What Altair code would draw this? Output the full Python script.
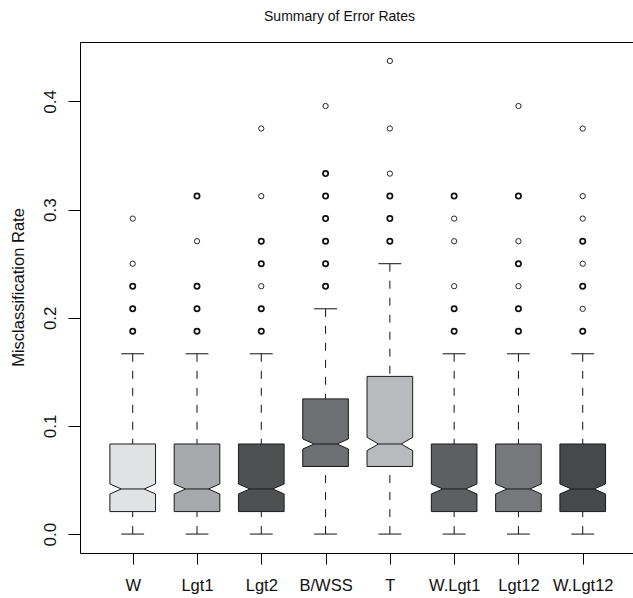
import altair as alt
import pandas as pd
import math

groups = ["W", "Lgt1", "Lgt2", "B/WSS", "T", "W.Lgt1", "Lgt12", "W.Lgt12"]
fills = ["#e1e2e4", "#a8a9ac", "#4f5052", "#6e6f72", "#b9babd", "#5e5f61", "#77787b", "#47484a"]
lower_whisker = [0.0, 0.0, 0.0, 0.0, 0.0, 0.0, 0.0, 0.0]
q1 = [0.0208, 0.0208, 0.0208, 0.0625, 0.0625, 0.0208, 0.0208, 0.0208]
median = [0.0417, 0.0417, 0.0417, 0.0833, 0.0833, 0.0417, 0.0417, 0.0417]
q3 = [0.0833, 0.0833, 0.0833, 0.1250, 0.1458, 0.0833, 0.0833, 0.0833]
upper_whisker = [0.1667, 0.1667, 0.1667, 0.2083, 0.2500, 0.1667, 0.1667, 0.1667]
n_obs = 455

# outliers: (value, multiplicity)
outliers = {
    "W": [(0.2917, 1), (0.2500, 1), (0.2292, 2), (0.2083, 2), (0.1875, 2)],
    "Lgt1": [(0.3125, 2), (0.2708, 1), (0.2292, 2), (0.2083, 2), (0.1875, 2)],
    "Lgt2": [(0.3750, 1), (0.3125, 1), (0.2708, 2), (0.2500, 2), (0.2292, 1), (0.2083, 2), (0.1875, 2)],
    "B/WSS": [(0.3958, 1), (0.3333, 2), (0.3125, 2), (0.2917, 2), (0.2708, 2), (0.2500, 2), (0.2292, 2)],
    "T": [(0.4375, 1), (0.3750, 1), (0.3333, 1), (0.3125, 2), (0.2917, 2), (0.2708, 2)],
    "W.Lgt1": [(0.3125, 2), (0.2917, 1), (0.2708, 1), (0.2292, 1), (0.2083, 2), (0.1875, 2)],
    "Lgt12": [(0.3958, 1), (0.3125, 2), (0.2708, 1), (0.2500, 2), (0.2292, 1), (0.2083, 2), (0.1875, 2)],
    "W.Lgt12": [(0.3750, 1), (0.3125, 1), (0.2917, 1), (0.2708, 2), (0.2500, 1), (0.2292, 2), (0.2083, 1), (0.1875, 2)],
}

HALF = 0.355  # half box width in x units
FONT = "Liberation Sans"

box_rows, whisk_rows, cap_rows, med_rows, out_rows = [], [], [], [], []
for i, g in enumerate(groups):
    c = i + 1
    nt = 1.58 * (q3[i] - q1[i]) / math.sqrt(n_obs)
    m = median[i]
    pts = [(q1[i], HALF), (m - nt, HALF), (m, HALF / 2), (m + nt, HALF), (q3[i], HALF)]
    for k, (yv, w) in enumerate(pts):
        box_rows.append({"g": g, "k": k, "y": yv, "xl": c - w, "xr": c + w})
    whisk_rows.append({"g": g, "x": c, "y": upper_whisker[i], "y2": q3[i]})
    whisk_rows.append({"g": g, "x": c, "y": lower_whisker[i], "y2": q1[i]})
    cap_rows.append({"g": g, "x": c - HALF / 2, "x2": c + HALF / 2, "y": upper_whisker[i]})
    cap_rows.append({"g": g, "x": c - HALF / 2, "x2": c + HALF / 2, "y": lower_whisker[i]})
    med_rows.append({"g": g, "x": c - HALF / 2, "x2": c + HALF / 2, "y": m})
    for v, cnt in outliers[g]:
        out_rows.append({"g": g, "x": c, "y": v, "cnt": cnt})

boxes = pd.DataFrame(box_rows)
whisk = pd.DataFrame(whisk_rows)
caps = pd.DataFrame(cap_rows)
meds = pd.DataFrame(med_rows)
outs = pd.DataFrame(out_rows)

xscale = alt.Scale(domain=[0.18, 8.782], nice=False, zero=False)
yscale = alt.Scale(domain=[-0.0175, 0.455], nice=False, zero=False)

label_expr = "[" + ",".join("'" + g + "'" for g in groups) + "][datum.value - 1]"

xaxis = alt.Axis(values=list(range(1, 9)), labelExpr=label_expr, title=None, grid=False,
                 domainColor="#000", tickColor="#000", tickSize=11, labelFont=FONT,
                 labelFontSize=16.5, labelColor="#111", labelPadding=13, labelFlush=False,
                 labelOverlap=False)
yaxis = alt.Axis(values=[0.0, 0.1, 0.2, 0.3, 0.4], format=".1f", grid=False,
                 title="Misclassification Rate", titleFont=FONT, titleFontSize=16.5,
                 titleFontWeight="normal", titleColor="#111", titleAngle=270,
                 titleX=-62, titleY=245, titleAlign="center", titleBaseline="middle",
                 domainColor="#000", tickColor="#000", tickSize=12, labelFont=FONT,
                 labelFontSize=17, labelColor="#111", labelAngle=270, labelAlign="center",
                 labelBaseline="bottom", labelPadding=9, labelFlush=False)

whisker_layer = alt.Chart(whisk).mark_rule(color="#111", strokeWidth=1, strokeDash=[8, 9]).encode(
    x=alt.X("x:Q", scale=xscale, axis=xaxis),
    y=alt.Y("y:Q", scale=yscale, axis=yaxis),
    y2="y2:Q",
)

cap_layer = alt.Chart(caps).mark_rule(color="#111", strokeWidth=1).encode(
    x=alt.X("x:Q", scale=xscale), x2="x2:Q", y=alt.Y("y:Q", scale=yscale)
)

box_layer = alt.Chart(boxes).mark_area(
    orient="horizontal", interpolate="linear", stroke="#1a1a1a", strokeWidth=1, opacity=1
).encode(
    y=alt.Y("y:Q", scale=yscale),
    x=alt.X("xl:Q", scale=xscale, stack=None),
    x2="xr:Q",
    color=alt.Color("g:N", scale=alt.Scale(domain=groups, range=fills), legend=None),
)

med_layer = alt.Chart(meds).mark_rule(color="#1a1a1a", strokeWidth=1).encode(
    x=alt.X("x:Q", scale=xscale), x2="x2:Q", y=alt.Y("y:Q", scale=yscale)
)

out_layer = alt.Chart(outs).mark_point(shape="circle", filled=False, size=28, color="#111", opacity=1).encode(
    x=alt.X("x:Q", scale=xscale),
    y=alt.Y("y:Q", scale=yscale),
    strokeWidth=alt.StrokeWidth("cnt:Q", scale=alt.Scale(domain=[1, 2], range=[0.9, 1.7]), legend=None),
)

top_border = alt.Chart(pd.DataFrame({"t": [0]})).mark_rule(color="#000", strokeWidth=1).encode(
    x=alt.value(0), x2=alt.value(553), y=alt.value(0.5)
)

chart = alt.layer(whisker_layer, cap_layer, box_layer, med_layer, out_layer, top_border).properties(
    width=553,
    height=511,
    autosize=alt.AutoSizeParams(type="none"),
    padding={"left": 80, "top": 42, "right": 0, "bottom": 45},
    title=alt.TitleParams(text="Summary of Error Rates", font=FONT, fontSize=14, fontWeight="normal",
                          color="#111", anchor="middle", dx=-17, offset=18),
).configure_view(stroke=None).configure(background="white")

chart.save("out.html", embed_options={"renderer": "svg", "actions": False})
